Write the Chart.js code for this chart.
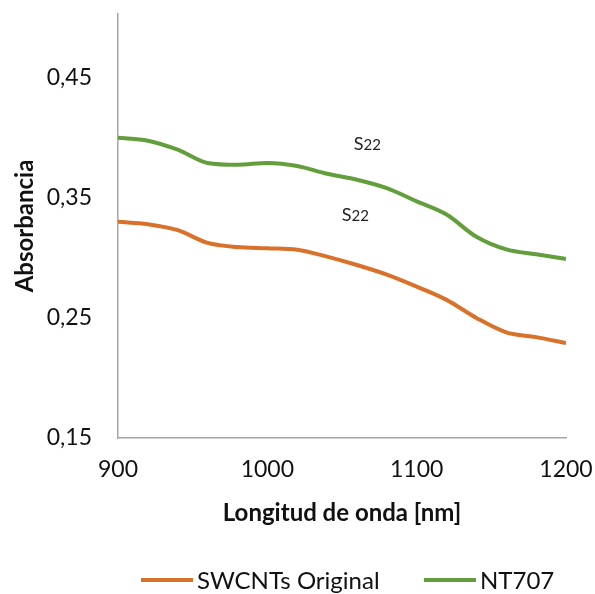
<!DOCTYPE html>
<html>
<head>
<meta charset="utf-8">
<script src="https://cdn.jsdelivr.net/npm/chart.js@4.4.1/dist/chart.umd.min.js"></script>
<style>
  html, body { margin: 0; padding: 0; background: #fff; }
  #wrap { width: 595px; height: 594px; position: relative; }
</style>
</head>
<body>
<div id="wrap"><canvas id="c" width="595" height="594"></canvas></div>
<script>
// Wavelength samples (nm)
const wavelengths = [900, 920, 940, 960, 980, 1000, 1020, 1040, 1060, 1080, 1100, 1120, 1140, 1160, 1180, 1200];
// Absorbance spectra
const swcntOriginal = [0.330, 0.328, 0.323, 0.3125, 0.309, 0.308, 0.3068, 0.301, 0.294, 0.286, 0.276, 0.265, 0.250, 0.238, 0.234, 0.229];
const nt707 = [0.400, 0.3975, 0.390, 0.379, 0.3775, 0.379, 0.3765, 0.370, 0.365, 0.358, 0.347, 0.336, 0.3175, 0.307, 0.303, 0.299];
const seriesNames = ['SWCNTs Original', 'NT707'];
// Y tick values and X tick values
const yTickValues = [0.15, 0.25, 0.35, 0.45];
const xTickValues = [900, 1000, 1100, 1200];
// S22 band annotations: [wavelength, absorbance]
const bandLabelPos = [[1067, 0.395], [1059, 0.336]];
const bandMain = 'S';
const bandSub = '22';

const FONT = "Lato, 'Open Sans', sans-serif";
const ORANGE = '#D9712B';
const GREEN = '#639E3C';
const AXIS = '#a6a6a6';

const toXY = (xs, ys) => xs.map((x, i) => ({ x: x, y: ys[i] }));

// Draws the S22 markers and the bottom legend
const extrasPlugin = {
  id: 'extras',
  afterDraw(chart) {
    const ctx = chart.ctx;
    const xs = chart.scales.x, ys = chart.scales.y;
    ctx.save();
    ctx.fillStyle = '#222';
    ctx.textBaseline = 'alphabetic';
    bandLabelPos.forEach(([wx, a]) => {
      const px = xs.getPixelForValue(wx);
      const py = ys.getPixelForValue(a);
      ctx.font = '18px ' + FONT;
      const w1 = ctx.measureText(bandMain).width;
      ctx.font = '15px ' + FONT;
      const w2 = ctx.measureText(bandSub).width;
      const start = px - (w1 + w2) / 2;
      ctx.font = '18px ' + FONT;
      ctx.fillText(bandMain, start, py + 6);
      ctx.font = '15px ' + FONT;
      ctx.fillText(bandSub, start + w1, py + 6);
    });

    // legend
    const items = chart.data.datasets;
    const lx = [141, 424];
    ctx.font = '24px ' + FONT;
    ctx.textBaseline = 'middle';
    items.forEach((ds, i) => {
      const y = 580;
      ctx.strokeStyle = ds.borderColor;
      ctx.lineWidth = 4;
      ctx.beginPath();
      ctx.moveTo(lx[i], y);
      ctx.lineTo(lx[i] + 52, y);
      ctx.stroke();
      ctx.fillStyle = '#111';
      ctx.textAlign = 'left';
      ctx.fillText(ds.label, lx[i] + 56, y + 1);
    });
    ctx.restore();
  }
};

new Chart(document.getElementById('c'), {
  type: 'line',
  data: {
    datasets: [
      {
        label: seriesNames[0],
        data: toXY(wavelengths, swcntOriginal),
        borderColor: ORANGE,
        backgroundColor: ORANGE,
        borderWidth: 4,
        pointRadius: 0,
        cubicInterpolationMode: 'monotone',
        fill: false
      },
      {
        label: seriesNames[1],
        data: toXY(wavelengths, nt707),
        borderColor: GREEN,
        backgroundColor: GREEN,
        borderWidth: 4,
        pointRadius: 0,
        cubicInterpolationMode: 'monotone',
        fill: false
      }
    ]
  },
  options: {
    responsive: false,
    animation: false,
    devicePixelRatio: 1,
    layout: { padding: { top: 14, right: 29, bottom: 66, left: 0 } },
    plugins: {
      legend: { display: false },
      tooltip: { enabled: false }
    },
    scales: {
      x: {
        type: 'linear',
        min: 900,
        max: 1200,
        afterBuildTicks(scale) { scale.ticks = xTickValues.map(v => ({ value: v })); },
        afterFit(scale) { scale.height = 90; scale.paddingLeft = 0; scale.paddingRight = 0; },
        grid: { display: false, drawTicks: false },
        border: { display: true, color: AXIS, width: 1.5 },
        ticks: {
          color: '#111',
          font: { family: FONT, size: 23 },
          padding: 18,
          maxRotation: 0,
          callback: v => String(v)
        },
        title: {
          display: true,
          text: 'Longitud de onda [nm]',
          color: '#111',
          font: { family: FONT, size: 24, weight: 'bold' },
          padding: { top: 0, bottom: 0 }
        }
      },
      y: {
        type: 'linear',
        min: 0.15,
        max: 0.503,
        afterBuildTicks(scale) { scale.ticks = yTickValues.map(v => ({ value: v })); },
        afterFit(scale) { scale.width = 118; scale.paddingTop = 0; scale.paddingBottom = 0; },
        grid: { display: false, drawTicks: false },
        border: { display: true, color: AXIS, width: 1.5 },
        ticks: {
          color: '#111',
          font: { family: FONT, size: 23 },
          padding: 26,
          callback: v => v.toFixed(2).replace('.', ',')
        },
        title: {
          display: true,
          text: 'Absorbancia',
          color: '#111',
          font: { family: FONT, size: 24, weight: 'bold' },
          padding: { top: 11, bottom: 0 }
        }
      }
    }
  },
  plugins: [extrasPlugin]
});
</script>
</body>
</html>
